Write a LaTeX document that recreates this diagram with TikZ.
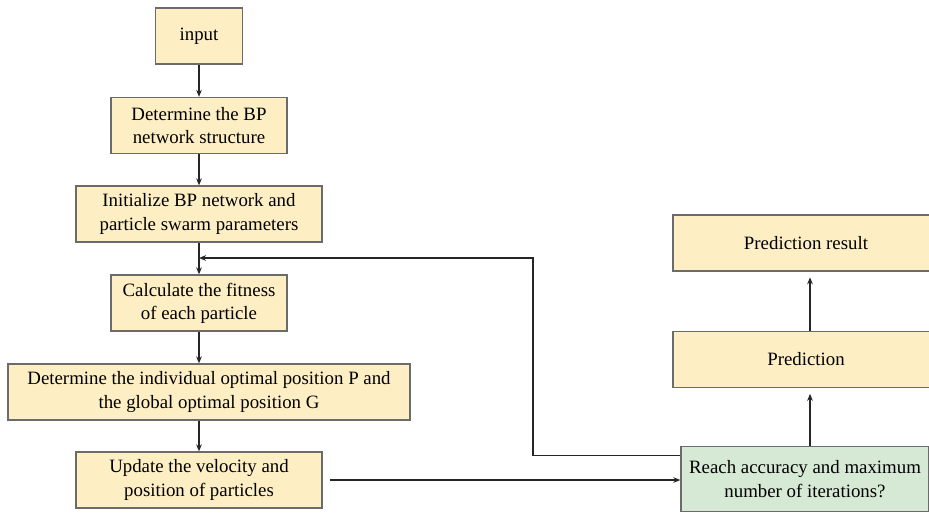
\documentclass[tikz,border=0pt]{standalone}
\usepackage{fontspec}
\setmainfont{Liberation Serif}
\usetikzlibrary{arrows.meta}
\definecolor{boxyellow}{HTML}{FDEEC4}
\definecolor{boxgreen}{HTML}{D6E9D5}
\definecolor{boxline}{HTML}{6B6B6B}
\begin{document}
\begin{tikzpicture}[x=0.025cm, y=-0.025cm,
      main/.style = {draw=boxline, line width=0.9pt, fill=boxyellow, align=center,
                     inner sep=0pt, minimum height=1.4cm,
                     font=\fontsize{13.4}{16.5}\selectfont},
      test/.style = {main, fill=boxgreen, minimum height=1.62cm},
      arr/.style = {-{Stealth[length=5pt, width=4pt]}, line width=0.8pt, draw=black!85}]
    \clip (0,0) rectangle (929,516);
    % nodes
    \node[main, minimum width=2.175cm] (in) at (199,36) {input};
    \node[main, minimum width=4.4cm] (struct) at (199,125.5) {Determine the BP\\network structure};
    \node[main, minimum width=6.15cm] (init) at (199,214) {Initialize BP network and\\particle swarm parameters};
    \node[main, minimum width=4.4cm] (fit) at (199,303) {Calculate the fitness\\of each particle};
    \node[main, minimum width=10.05cm] (best) at (209,392) {Determine the individual optimal position P and\\the global optimal position G};
    \node[main, minimum width=6.15cm] (update) at (199,480) {Update the velocity and\\position of particles};

    \node[test, minimum width=6.2cm] (reach) at (805,479) {Reach accuracy and maximum\\number of iterations?};
    \node[main, minimum width=6.65cm] (pred) at (806,359.5) {Prediction};
    \node[main, minimum width=6.65cm] (result) at (806,243) {Prediction result};

    \coordinate (loop) at (533,258);
    \coordinate (join) at (199,258);

    % arrows
    \draw[arr] (in) -- (struct);
    \draw[arr] (struct) -- (init);
    \draw[arr] (init) -- (fit);
    \draw[arr] (fit) -- (fit |- best.north);
    \draw[arr] (best.south -| update) -- (update);
    \draw[arr] ([xshift=5]update.east) -- (update.east -| reach.west);
    \draw[arr] ([yshift=-7]reach.north west) -| (loop) -- (join);
    \draw[arr, shorten >=4pt] (reach.north -| 810,0) -- (pred.south -| 810,0);
    \draw[arr, shorten >=4pt] (pred.north -| 810,0) -- (result.south -| 810,0);

  \end{tikzpicture}
\end{document}
